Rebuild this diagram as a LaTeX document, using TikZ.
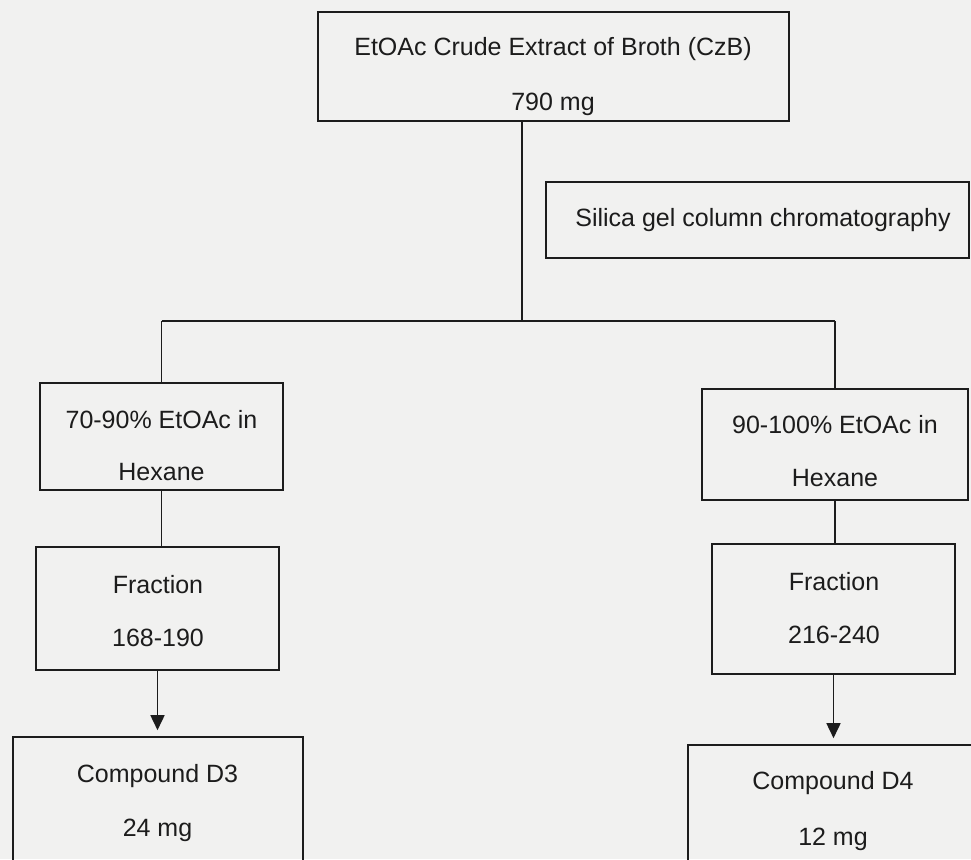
\documentclass[tikz,border=0pt]{standalone}
\usepackage{fontspec}
\setmainfont{Liberation Sans}
\usetikzlibrary{arrows.meta}
\definecolor{paper}{RGB}{241,241,240}
\definecolor{ink}{RGB}{28,28,28}
\begin{document}
\begin{tikzpicture}[x=1pt,y=-1pt,
  box/.style={draw=ink, line width=1.6pt, inner sep=0pt},
  lbl/.style={anchor=base, inner sep=0pt, text=ink, font=\fontsize{25}{30}\selectfont},
  link/.style={draw=ink, line width=1.6pt},
  flow/.style={link, -{Triangle[length=15pt,width=14pt]}, shorten >=6pt}]

% page and clipping frame
\useasboundingbox (0,0) rectangle (971,859);
\fill[paper] (0,0) rectangle (971,859);
\clip (0,0) rectangle (971,859);

% boxes
\node[box, minimum width=471, minimum height=109] (crude)  at (553.5,66.5) {};
\node[box, minimum width=423, minimum height=76]  (silica) at (757.5,220) {};
\node[box, minimum width=243, minimum height=107] (eluA)   at (161.5,436.5) {};
\node[box, minimum width=266, minimum height=111] (eluB)   at (835,444.5) {};
\node[box, minimum width=243, minimum height=123] (fracA)  at (157.5,608.5) {};
\node[box, minimum width=243, minimum height=130] (fracB)  at (833.5,609) {};
\node[box, minimum width=290, minimum height=143] (cmpA)   at (158,808.5) {};
\node[box, minimum width=292, minimum height=145] (cmpB)   at (834,817.5) {};

% texts
\node[lbl] (crudeT1)  at (553,56)    {EtOAc Crude Extract of Broth (CzB)};
\node[lbl] (crudeT2)  at (553,110)   {790 mg};
\node[lbl] (silicaT)  at (763,226)   {Silica gel column chromatography};
\node[lbl] (eluAT1)   at (161.5,428) {70-90\% EtOAc in};
\node[lbl] (eluAT2)   at (161.5,480) {Hexane};
\node[lbl] (eluBT1)   at (835,433)   {90-100\% EtOAc in};
\node[lbl] (eluBT2)   at (835,486)   {Hexane};
\node[lbl] (fracAT1)  at (158,593)   {Fraction};
\node[lbl] (fracAT2)  at (158,646)   {168-190};
\node[lbl] (fracBT1)  at (834,590)   {Fraction};
\node[lbl] (fracBT2)  at (834,643)   {216-240};
\node[lbl] (cmpAT1)   at (157.5,782) {Compound D3};
\node[lbl] (cmpAT2)   at (157.5,836) {24 mg};
\node[lbl] (cmpBT1)   at (833,789)   {Compound D4};
\node[lbl] (cmpBT2)   at (833,845)   {12 mg};

% branching connectors
\coordinate (split)  at (522,321);
\coordinate (splitL) at (161.5,321);
\coordinate (splitR) at (835,321);
\draw[link] (crude.south -| split) -- (split);
\draw[link] (splitL) -- (splitR);
\draw[link] (splitL) -- (eluA.north);
\draw[link] (splitR) -- (eluB.north);
\draw[link] (eluA.south) -- (eluA.south |- fracA.north);
\draw[link] (eluB.south) -- (eluB.south |- fracB.north);
\draw[flow] (fracA.south) -- (fracA.south |- cmpA.north);
\draw[flow] (fracB.south) -- (fracB.south |- cmpB.north);
\end{tikzpicture}
\end{document}
